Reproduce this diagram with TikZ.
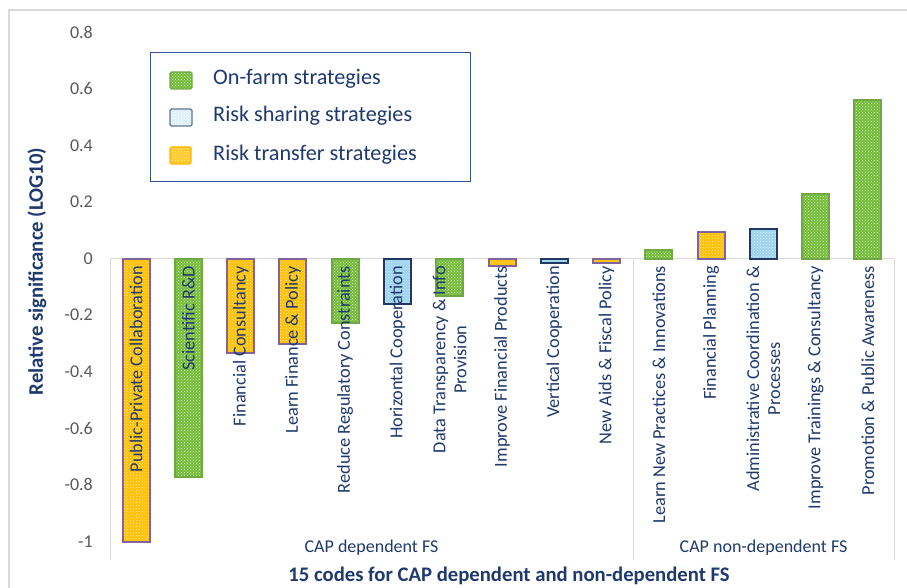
\documentclass[tikz,border=0pt]{standalone}
\usepackage{fontspec}
\setmainfont{Carlito}
\usetikzlibrary{patterns}
\definecolor{navy}{HTML}{1F3A6E}
\definecolor{tickgray}{HTML}{595959}
\definecolor{gridgray}{HTML}{D9D9D9}
\definecolor{gfill}{HTML}{74BC38}
\definecolor{gline}{HTML}{6FA845}
\definecolor{ofill}{HTML}{FFC000}
\definecolor{oline}{HTML}{8064A2}
\definecolor{bfill}{HTML}{9DD3EE}
\definecolor{bline}{HTML}{203864}
\definecolor{legline}{HTML}{2F5597}
\tikzset{
  gbar/.style={draw=gline, line width=2pt, preaction={fill=gfill}, preaction={pattern=crosshatch dots, pattern color=white!75!gfill}},
  obar/.style={draw=oline, line width=2pt, preaction={fill=ofill}, preaction={pattern=crosshatch dots, pattern color=white!70!ofill}},
  bbar/.style={draw=bline, line width=2pt, preaction={fill=bfill}, preaction={pattern=crosshatch dots, pattern color=white!65!bfill}},
  catlab/.style={rotate=90, anchor=east, inner sep=0pt, text=navy, font=\fontsize{18.3}{21}\selectfont, align=center},
  ticklab/.style={anchor=east, inner sep=0pt, text=tickgray, font=\fontsize{18}{20}\selectfont},
  legtext/.style={anchor=west, inner sep=0pt, text=navy, font=\fontsize{22.2}{25}\selectfont},
  grplab/.style={inner sep=0pt, text=navy, font=\fontsize{18}{21}\selectfont},
  axtitle/.style={inner sep=0pt, text=navy, font=\bfseries\fontsize{20.7}{23}\selectfont}
}
\begin{document}
\begin{tikzpicture}[x=1pt,y=-1pt]
\useasboundingbox (0,0) rectangle (907,588);
\fill[white] (0,0) rectangle (907,588);
% outer frame
\draw[gridgray, line width=1.2pt] (9,600) -- (9,10) -- (920,10);
% axes lines
\draw[gridgray, line width=0.8pt] (110,258.5) -- (110,560);
\draw[gridgray, line width=0.8pt] (633,258.5) -- (633,560);
\draw[gridgray, line width=0.8pt] (894,258.5) -- (894,560);
\draw[gridgray, line width=0.8pt] (110,258.5) -- (894,258.5);
% tick labels
\foreach \v/\t in {0.8/0.8,0.6/0.6,0.4/0.4,0.2/0.2,0/0,-0.2/-0.2,-0.4/-0.4,-0.6/-0.6,-0.8/-0.8,-1/-1}{
  \node[ticklab] at (93,{258.5-283*\v}) {\t};
}
% bars
\foreach \i/\v/\s in {1/-1.0/obar,2/-0.771/gbar,3/-0.333/obar,4/-0.303/obar,5/-0.227/gbar,6/-0.162/bbar,7/-0.133/gbar,8/-0.027/obar,9/-0.017/bbar,10/-0.016/obar,11/0.03/gbar,12/0.093/obar,13/0.105/bbar,14/0.227/gbar,15/0.56/gbar}{
  \path[\s] ({110+52.267*(\i-0.5)-13.5},258.5) rectangle ({110+52.267*(\i-0.5)+13.5},{258.5-283*\v});
}
% category labels
\node[catlab] (c1) at ({110+52.267*0.5},266) {Public-Private Collaboration};
\node[catlab] (c2) at ({110+52.267*1.5},266) {Scientific R\&D};
\node[catlab] (c3) at ({110+52.267*2.5},266) {Financial Consultancy};
\node[catlab] (c4) at ({110+52.267*3.5},266) {Learn Finance \& Policy};
\node[catlab] (c5) at ({110+52.267*4.5},266) {Reduce Regulatory Constraints};
\node[catlab] (c6) at ({110+52.267*5.5},266) {Horizontal Cooperation};
\node[catlab] (c7) at ({110+52.267*6.5},266) {Data Transparency \& Info\\Provision};
\node[catlab] (c8) at ({110+52.267*7.5},266) {Improve Financial Products};
\node[catlab] (c9) at ({110+52.267*8.5},266) {Vertical Cooperation};
\node[catlab] (c10) at ({110+52.267*9.5},266) {New Aids \& Fiscal Policy};
\node[catlab] (c11) at ({110+52.267*10.5},266) {Learn New Practices \& Innovations};
\node[catlab] (c12) at ({110+52.267*11.5},266) {Financial Planning};
\node[catlab] (c13) at ({110+52.267*12.5},266) {Administrative Coordination \&\\Processes};
\node[catlab] (c14) at ({110+52.267*13.5},266) {Improve Trainings \& Consultancy};
\node[catlab] (c15) at ({110+52.267*14.5},266) {Promotion \& Public Awareness};
% group labels
\node[grplab] (g1) at (371.5,548) {CAP dependent FS};
\node[grplab] (g2) at (763.5,548) {CAP non-dependent FS};
% axis titles
\node[axtitle] (xt) at (509,576) {15 codes for CAP dependent and non-dependent FS};
\node[axtitle, rotate=90] (yt) at (37,271.5) {Relative significance (LOG10)};
% legend
\draw[legline, line width=1pt, fill=white] (150,53) rectangle (470,182);
\path[gbar, line width=1.1pt, rounded corners=1.5pt] (170,72) rectangle (192,89);
\path[draw=bline!70, line width=1.1pt, rounded corners=1.5pt, preaction={fill=bfill!35}, preaction={pattern=crosshatch dots, pattern color=white}] (170,109) rectangle (192,126);
\path[draw=ofill!80!orange, line width=1.1pt, rounded corners=1.5pt, preaction={fill=ofill!85}, preaction={pattern=crosshatch dots, pattern color=white!70!ofill}] (170,147) rectangle (191,164);
\node[legtext] (l1) at (213,79) {On-farm strategies};
\node[legtext] (l2) at (213,116) {Risk sharing strategies};
\node[legtext] (l3) at (213,155) {Risk transfer strategies};
\end{tikzpicture}
\end{document}
